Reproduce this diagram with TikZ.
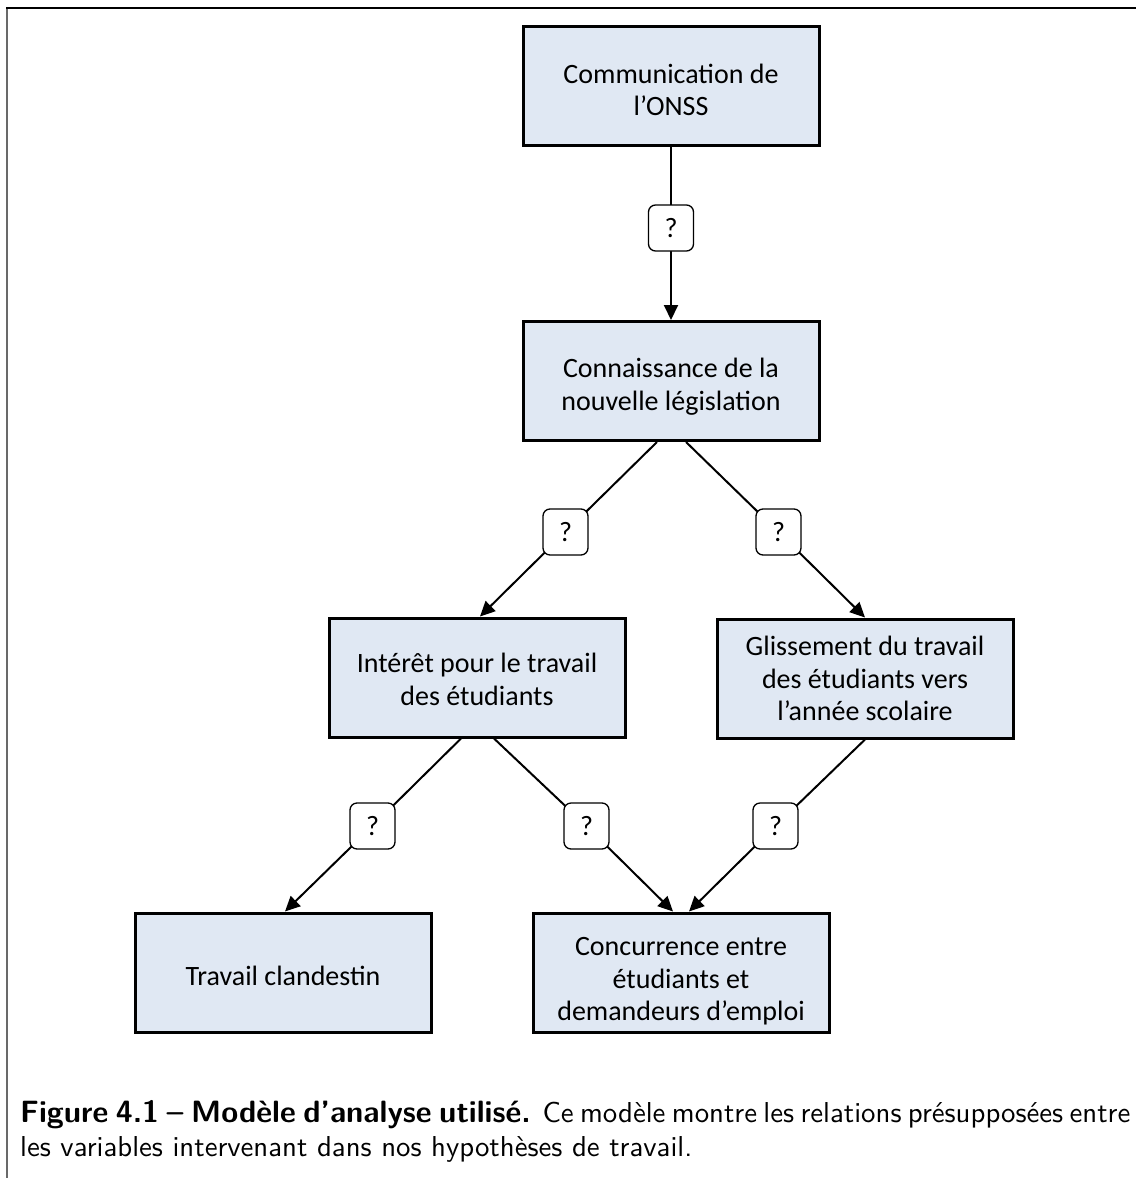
\documentclass[tikz,border=0pt]{standalone}
\usepackage{fontspec}
\newfontfamily\boxfont{Carlito}
\newfontfamily\capfont[BoldFont=lmsans10-bold.otf]{lmsans10-regular.otf}
\usetikzlibrary{arrows.meta,backgrounds}
\definecolor{boxfill}{RGB}{224,232,243}
\definecolor{framegray}{RGB}{105,105,105}
\newcommand\myupst[1]{\rule{0pt}{#1}}
\newcommand\mydnst[1]{\rule[-#1]{0pt}{0pt}}
\newcommand\capbold[1]{{\fontsize{30.8}{34}\selectfont\bfseries #1}}
\tikzset{
  varbox/.style={draw=black, line width=3pt, fill=boxfill, minimum width=296pt,
    minimum height=119pt, align=center, inner sep=0pt,
    font=\boxfont\fontsize{28}{32.5}\selectfont},
  qbox/.style={draw=black, line width=1.3pt, fill=white, rounded corners=7pt,
    minimum width=45pt, minimum height=46pt, inner sep=0pt,
    font=\boxfont\fontsize{28}{33}\selectfont},
  link/.style={line width=2pt, draw=black},
  arr/.style={link, -{Triangle[length=15pt,width=14pt]}},
  captext/.style={anchor=base west, inner sep=0pt, font=\capfont\fontsize{28.8}{34}\selectfont}
}
\begin{document}
\begin{tikzpicture}[x=1pt,y=-1pt]
\useasboundingbox (0,0) rectangle (1136,1178);
% frame
\draw[framegray, line width=2pt] (7,8) -- (7,1178);
\draw[black, line width=1.5pt] (6,8) -- (1136,8);

% boxes
\node[varbox] (b1) at (671,86) {\myupst{38.55pt}Communication de\\l’ONSS\mydnst{11.45pt}};
\node[varbox] (b2) at (671,381) {\myupst{37.75pt}Connaissance de la\\nouvelle législation\mydnst{12.25pt}};
\node[varbox] (b3) at (477,677.5) {\myupst{36.25pt}Intérêt pour le travail\\des étudiants\mydnst{13.75pt}};
\node[varbox] (b4) at (865,678.5) {\myupst{34.5pt}Glissement du travail\\des étudiants vers\\l’année scolaire\mydnst{15.5pt}};
\node[varbox] (b5) at (283,972.5) {\myupst{38pt}Travail clandestin\mydnst{12pt}};
\node[varbox] (b6) at (681,972.5) {\myupst{40.5pt}Concurrence entre\\étudiants et\\demandeurs d’emploi\mydnst{9.5pt}};

% question marks
\node[qbox] (q0) at (671,228) {?};
\node[qbox] (q1) at (565.5,532) {?};
\node[qbox] (q2) at (778.5,532) {?};
\node[qbox] (q3) at (372.5,826) {?};
\node[qbox] (q4) at (586.5,826) {?};
\node[qbox] (q5) at (775.5,826) {?};

% connector ends
\coordinate (s1) at (657,442);
\coordinate (s2) at (686,442);
\coordinate (t3) at (480,616.5);
\coordinate (t4) at (865,617.5);
\coordinate (s3) at (461,738.5);
\coordinate (s4) at (494,738.5);
\coordinate (s5) at (865,739.5);
\coordinate (t5) at (285,911.5);
\coordinate (t6a) at (673,911.5);
\coordinate (t6b) at (689,911.5);

\begin{scope}[on background layer]
\draw[link] (b1.south) -- (q0.center);
\draw[arr] (q0.center) -- (b2.north);
\draw[link] (s1) -- (q1.center);
\draw[arr] (q1.center) -- (t3);
\draw[link] (s2) -- (q2.center);
\draw[arr] (q2.center) -- (t4);
\draw[link] (s3) -- (q3.center);
\draw[arr] (q3.center) -- (t5);
\draw[link] (s4) -- (q4.center);
\draw[arr] (q4.center) -- (t6a);
\draw[link] (s5) -- (q5.center);
\draw[arr] (q5.center) -- (t6b);
\end{scope}

% caption
\node[captext] (cap1) at (20,1122) {\makebox[1105pt][s]{\capbold{Figure 4.1 – Modèle d’analyse utilisé.} Ce modèle montre les relations présupposées entre}};
\node[captext] (cap2) at (20,1156) {les variables intervenant dans nos hypothèses de travail.};
\end{tikzpicture}
\end{document}
